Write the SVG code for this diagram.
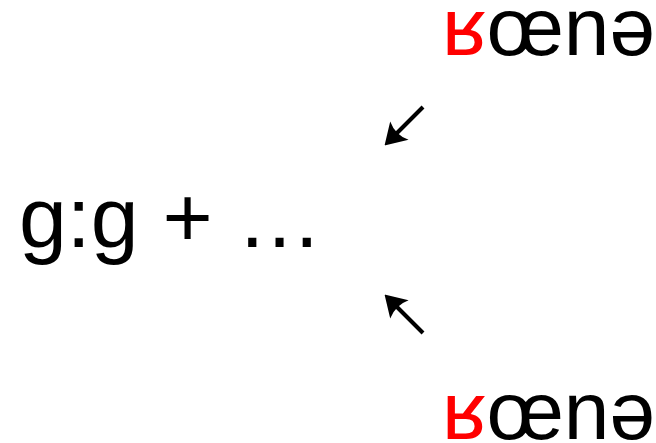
<svg xmlns="http://www.w3.org/2000/svg" width="656" height="443" viewBox="0 0 656 443">
<style>
text{font-family:"Liberation Sans",Arial,sans-serif;fill:#000}
.w{font-size:82px}
.r{fill:#ff0000}
.c{stroke:#000;stroke-width:4;fill:none;stroke-linecap:butt}
</style>
<defs>
<marker id="ah" viewBox="0 0 22 28" refX="15" refY="14" markerWidth="22" markerHeight="28" orient="auto" markerUnits="userSpaceOnUse">
<path d="M22,14 L1,1 Q7,14 1,27 Z" fill="#000"/>
</marker>
</defs>
<g id="expr"><text x="19" y="247" style="font-size:86px">g:g + …</text></g>
<g id="top"><text class="w" x="442" y="55"><tspan class="r">ʁ</tspan>œnə</text></g>
<g id="bottom"><text class="w" x="442" y="439"><tspan class="r">ʁ</tspan>œnə</text></g>
<g id="connectors">
<line class="c" x1="423" y1="107" x2="389.5" y2="140.5" marker-end="url(#ah)"/>
<line class="c" x1="423" y1="333" x2="389.5" y2="299.5" marker-end="url(#ah)"/>
</g>
</svg>
